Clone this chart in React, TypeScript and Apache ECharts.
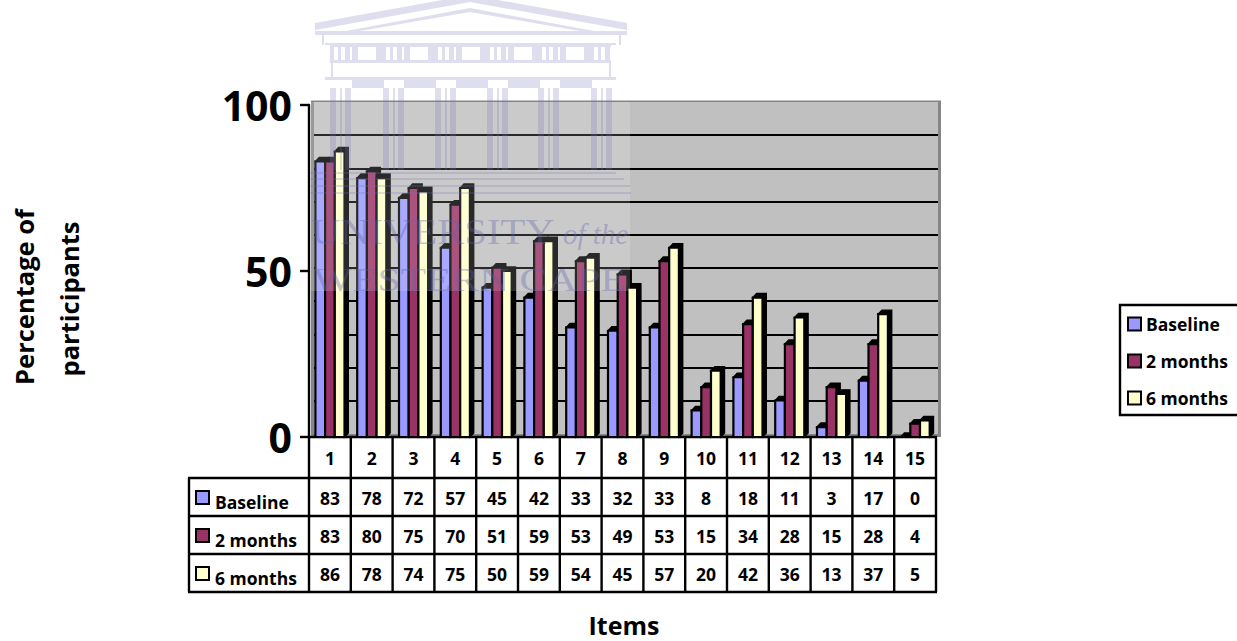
import React, { useEffect, useRef } from "react";
import * as echarts from "echarts";

const items = ["1", "2", "3", "4", "5", "6", "7", "8", "9", "10", "11", "12", "13", "14", "15"];
const baseline = [83, 78, 72, 57, 45, 42, 33, 32, 33, 8, 18, 11, 3, 17, 0];
const twoMonths = [83, 80, 75, 70, 51, 59, 53, 49, 53, 15, 34, 28, 15, 28, 4];
const sixMonths = [86, 78, 74, 75, 50, 59, 54, 45, 57, 20, 42, 36, 13, 37, 5];
const seriesNames = ["Baseline", "2 months", "6 months"];
const seriesColors = ["#9999ff", "#993366", "#ffffcc"];
const yTicks = [0, 50, 100];

const FONT = "'Open Sans', sans-serif";
const PLOT_LEFT = 309;
const PLOT_WIDTH = 627;
const COL = PLOT_WIDTH / items.length;
const TABLE_LEFT = 189;
const ROW_LINES = [478, 516, 554, 592];
const TABLE_TOP = 438;

const BAR_W = 9.7;
const DEPTH_X = 3.8;
const DEPTH_Y = 4;

function barRenderer(seriesIndex: number, color: string) {
  return (_params: any, api: any) => {
    const i = api.value(0);
    const base = api.coord([i, 0]);
    const top = api.coord([i, api.value(1)]);
    const x = base[0] - 14.5 + seriesIndex * BAR_W;
    const y = top[1];
    const ink = "#000";
    return {
      type: "group",
      children: [
        {
          type: "polygon",
          shape: {
            points: [
              [x + BAR_W, base[1]],
              [x + BAR_W + DEPTH_X, base[1] - DEPTH_Y],
              [x + BAR_W + DEPTH_X, y - DEPTH_Y],
              [x + DEPTH_X, y - DEPTH_Y],
              [x, y],
              [x + BAR_W, y],
            ],
          },
          style: { fill: ink, stroke: ink, lineWidth: 1.4 },
        },
        {
          type: "rect",
          shape: { x, y, width: BAR_W, height: base[1] - y },
          style: { fill: color, stroke: ink, lineWidth: 2.2 },
        },
      ],
    };
  };
}

// Faded crest behind the plot: a temple front with the institution's name
function crestElements() {
  const ink = "rgba(112,112,186,0.23)";
  const wordInk = "rgba(96,96,170,0.36)";
  const z = 20;
  const out: any[] = [];
  const rect = (x: number, y: number, width: number, height: number) =>
    out.push({ type: "rect", z, silent: true, shape: { x, y, width, height }, style: { fill: ink } });
  const poly = (points: number[][]) =>
    out.push({ type: "polygon", z, silent: true, shape: { points }, style: { fill: ink } });
  const word = (x: number, y: number, text: string, font: string, scaleX: number) =>
    out.push({
      type: "text", z, silent: true, x, y, scaleX,
      style: { x: 0, y: 0, text, fill: wordInk, font, textVerticalAlign: "middle" },
    });

  poly([[315, 23], [470, -5], [627, 23], [627, 30], [470, 2], [315, 30]]);
  poly([[346, 31], [470, 8], [594, 31], [580, 31], [470, 12], [360, 31]]);
  rect(315, 31, 312, 4);
  rect(322, 35, 2, 10);
  rect(619, 35, 2, 10);
  rect(325, 43, 291, 2);
  rect(330, 45, 281, 2);
  [330, 382, 434, 486, 538, 590].forEach((x) => {
    rect(x, 47, 4, 13);
    rect(x + 8, 47, 3, 13);
    rect(x + 15, 47, 5, 13);
  });
  [352, 404, 456, 508, 560].forEach((x) => {
    rect(x, 47, 6, 13);
    rect(x + 24, 47, 6, 13);
  });
  rect(330, 60, 281, 3);
  rect(331, 63, 2, 14);
  rect(609, 63, 2, 14);
  rect(325, 77, 291, 3);
  [352, 404, 456, 508, 560].forEach((x) => rect(x, 80, 32, 8));
  [330, 383, 435, 487, 538, 591].forEach((x) => {
    rect(x, 88, 6, 82);
    rect(x + 10, 88, 2, 82);
    rect(x + 15, 88, 6, 82);
  });
  rect(310, 172, 306, 2);
  rect(310, 178, 314, 2);
  rect(310, 185, 320, 2);
  rect(310, 192, 321, 2);

  word(311, 232, "UNIVERSITY", "35px 'Liberation Serif'", 1.16);
  word(563, 234, "of the", "italic 29px 'Liberation Serif'", 1);
  word(313, 280, "WESTERN CAPE", "33px 'Liberation Serif'", 1.26);
  return out;
}

function tableElements() {
  const out: any[] = [];
  const line = (x1: number, y1: number, x2: number, y2: number) =>
    out.push({
      type: "line", z: 6, silent: true,
      shape: { x1, y1, x2, y2 },
      style: { stroke: "#000", lineWidth: 2.4 },
    });
  const label = (x: number, y: number, text: string, align: string) =>
    out.push({
      type: "text", z: 7, silent: true,
      style: { x, y, text, fill: "#000", font: `bold 17.5px ${FONT}`, textAlign: align, textVerticalAlign: "middle" },
    });

  const right = PLOT_LEFT + PLOT_WIDTH;
  line(PLOT_LEFT, TABLE_TOP, PLOT_LEFT, ROW_LINES[3]);
  for (let c = 1; c <= items.length; c++) {
    const x = PLOT_LEFT + c * COL;
    line(x, TABLE_TOP, x, ROW_LINES[3]);
  }
  line(TABLE_LEFT, ROW_LINES[0], TABLE_LEFT, ROW_LINES[3]);
  ROW_LINES.forEach((y) => line(TABLE_LEFT - 1, y, right + 1, y));

  [baseline, twoMonths, sixMonths].forEach((values, r) => {
    const cy = (ROW_LINES[r] + ROW_LINES[r + 1]) / 2;
    out.push({
      type: "rect", z: 7, silent: true,
      shape: { x: 196, y: cy - 6, width: 13, height: 13 },
      style: { fill: seriesColors[r], stroke: "#000", lineWidth: 2 },
    });
    label(215, cy + 5, seriesNames[r], "left");
    values.forEach((v, c) => label(PLOT_LEFT + (c + 0.5) * COL, cy + 1, String(v), "center"));
  });
  return out;
}

const axisTitle = (x: number, y: number, text: string) => ({
  type: "text",
  z: 7,
  silent: true,
  x,
  y,
  rotation: Math.PI / 2,
  style: { x: 0, y: 0, text, fill: "#000", font: `bold 25.5px ${FONT}`, textAlign: "center", textVerticalAlign: "middle" },
});

export default function App() {
  const ref = useRef<HTMLDivElement>(null);

  useEffect(() => {
    const chart = echarts.init(ref.current!, null, { renderer: "svg" });
    const hidden = { show: false };
    chart.setOption({
      animation: false,
      backgroundColor: "#fff",
      grid: [
        { left: PLOT_LEFT, top: 105, width: PLOT_WIDTH, height: 332 },
        // back wall, shifted up and right of the floor line for the 3-D look
        { left: 314, top: 102, width: 624, height: 332, show: true, backgroundColor: "#c0c0c0", borderWidth: 0 },
      ],
      xAxis: [
        {
          type: "category",
          gridIndex: 0,
          data: items,
          axisLine: { lineStyle: { color: "#000", width: 2.4 } },
          axisTick: hidden,
          axisLabel: { color: "#000", fontFamily: FONT, fontWeight: "bold", fontSize: 17.5, margin: 12, interval: 0 },
        },
        { type: "category", gridIndex: 1, data: items, axisLine: hidden, axisTick: hidden, axisLabel: hidden },
      ],
      yAxis: [
        {
          type: "value",
          gridIndex: 0,
          min: 0,
          max: 100,
          interval: 50,
          splitLine: hidden,
          axisLine: { show: true, lineStyle: { color: "#000", width: 2.4 } },
          axisTick: { show: true, length: 9, lineStyle: { color: "#000", width: 2.4 } },
          axisLabel: {
            color: "#000",
            fontFamily: FONT,
            fontWeight: "bold",
            fontSize: 41,
            margin: 17,
            formatter: (v: number) => (yTicks.includes(v) ? String(v) : ""),
          },
        },
        {
          type: "value",
          gridIndex: 1,
          min: 0,
          max: 100,
          interval: 10,
          axisLine: hidden,
          axisTick: hidden,
          axisLabel: hidden,
          splitLine: { show: true, showMinLine: false, showMaxLine: false, lineStyle: { color: "#000", width: 2 } },
        },
      ],
      legend: {
        show: true,
        orient: "vertical",
        left: 1120,
        top: 305,
        padding: [10, 40, 8, 7],
        itemWidth: 13,
        itemHeight: 13,
        itemGap: 19,
        icon: "rect",
        borderColor: "#000",
        borderWidth: 2.4,
        backgroundColor: "#fff",
        data: seriesNames,
        itemStyle: { borderColor: "#000", borderWidth: 2 },
        textStyle: { color: "#000", fontFamily: FONT, fontWeight: "bold", fontSize: 17.5 },
      },
      series: [baseline, twoMonths, sixMonths].map((values, s) => ({
        type: "custom",
        name: seriesNames[s],
        xAxisIndex: 0,
        yAxisIndex: 0,
        z: 3 + s,
        clip: false,
        itemStyle: { color: seriesColors[s] },
        data: values.map((v, i) => [i, v]),
        encode: { x: 0, y: 1 },
        renderItem: barRenderer(s, seriesColors[s]),
      })),
      graphic: {
        elements: [
          { type: "rect", z: -1, silent: true, shape: { x: 311, y: 100.5, width: 630, height: 336.5 }, style: { fill: "#868686" } },
          // lighter panel left by the crest's white backing
          { type: "rect", z: 19, silent: true, shape: { x: 311, y: 102, width: 319, height: 189 }, style: { fill: "rgba(255,255,255,0.16)" } },
          ...crestElements(),
          ...tableElements(),
          axisTitle(24, 297, "Percentage of"),
          axisTitle(69, 299, "participants"),
          {
            type: "text", z: 7, silent: true,
            style: { x: 624, y: 625, text: "Items", fill: "#000", font: `bold 25px ${FONT}`, textAlign: "center", textVerticalAlign: "middle" },
          },
        ],
      },
    });
    return () => chart.dispose();
  }, []);

  return <div ref={ref} style={{ position: "absolute", left: 0, top: 0, width: 1237, height: 641 }} />;
}
